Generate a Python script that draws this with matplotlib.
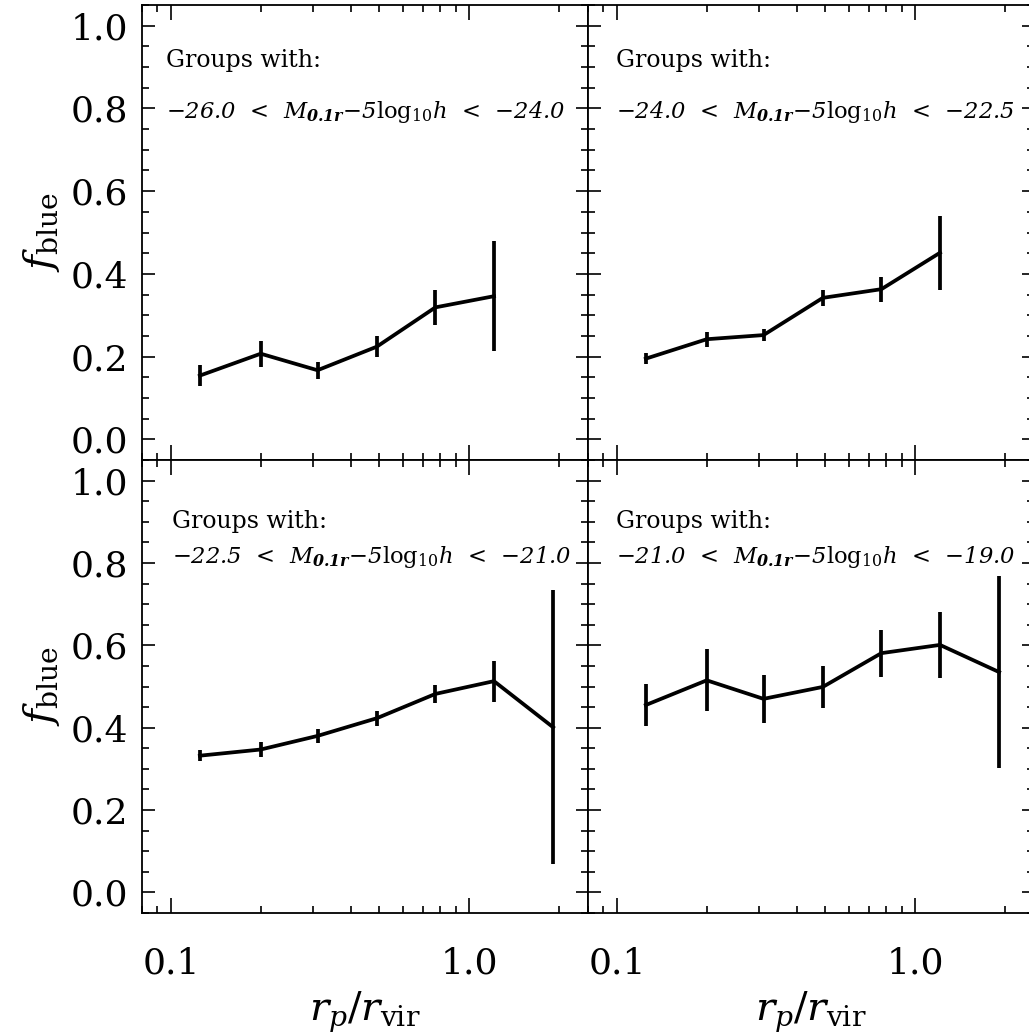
"""Blue fraction versus projected radius, four group luminosity bins."""

import matplotlib
matplotlib.use("Agg")
import matplotlib.pyplot as plt
from matplotlib.ticker import FixedLocator, NullFormatter

RADIUS = [0.125, 0.20, 0.31, 0.49, 0.77, 1.21, 1.91]

BINS = [("−26.0", "−24.0"), ("−24.0", "−22.5"), ("−22.5", "−21.0"), ("−21.0", "−19.0")]

FBLUE_1 = [0.154, 0.207, 0.167, 0.224, 0.319, 0.346]
ERR_1 = [0.025, 0.031, 0.021, 0.025, 0.042, 0.133]
FBLUE_2 = [0.195, 0.242, 0.252, 0.342, 0.363, 0.451]
ERR_2 = [0.014, 0.018, 0.015, 0.020, 0.030, 0.090]
FBLUE_3 = [0.332, 0.347, 0.380, 0.423, 0.482, 0.513, 0.401]
ERR_3 = [0.014, 0.018, 0.017, 0.018, 0.022, 0.050, 0.333]
FBLUE_4 = [0.455, 0.515, 0.470, 0.499, 0.581, 0.601, 0.535]
ERR_4 = [0.050, 0.075, 0.058, 0.051, 0.057, 0.081, 0.233]

YTICKS = [0.0, 0.2, 0.4, 0.6, 0.8, 1.0]
XTICKS = [0.1, 1.0]
XTICK_LABELS = ["0.1", "1.0"]

plt.rcParams.update({
    "font.family": ["DejaVu Serif"],
    "mathtext.fontset": "custom",
    "mathtext.rm": "DejaVu Serif",
    "mathtext.it": "DejaVu Serif:italic",
    "mathtext.bf": "DejaVu Serif:bold:italic",
    "axes.linewidth": 1.3,
})


def label_for(low, high):
    return (low + "  <  " + r"$M_{\mathbf{0.1r}}$" + "−5" + r"$\mathrm{log}_{10}h$"
            + "  <  " + high)


def panel(ax, y, err, bounds, left, bottom, text_pos):
    x = RADIUS[:len(y)]
    ax.errorbar(x, y, yerr=err, fmt="-", color="black", ecolor="black",
                linewidth=2.7, elinewidth=2.7, capsize=0)
    ax.set_xscale("log")
    ax.set_xlim(0.08, 2.5)
    ax.set_ylim(-0.05, 1.05)
    ax.xaxis.set_major_locator(FixedLocator(XTICKS))
    minors = [0.08, 0.09] + [0.1 * k for k in range(2, 10)] + [2.0]
    ax.xaxis.set_minor_locator(FixedLocator(minors))
    ax.xaxis.set_minor_formatter(NullFormatter())
    ax.yaxis.set_major_locator(FixedLocator(YTICKS))
    ax.yaxis.set_minor_locator(FixedLocator([i * 0.05 for i in range(-1, 22)]))
    ax.tick_params(which="both", direction="in", top=True, right=True, width=1.2)
    ax.tick_params(which="major", axis="x", length=11)
    ax.tick_params(which="minor", axis="x", length=5)
    ax.tick_params(which="major", axis="y", length=9)
    ax.tick_params(which="minor", axis="y", length=5)
    ax.tick_params(axis="y", labelsize=26, pad=10)
    ax.tick_params(axis="x", labelsize=26, pad=24)
    if bottom:
        ax.set_xticklabels(XTICK_LABELS)
        ax.set_xlabel(r"$r_p/r_{\rm vir}$", fontsize=29, labelpad=7)
    else:
        ax.set_xticklabels([])
    if left:
        ax.set_yticklabels([f"{v:.1f}" for v in YTICKS])
        ax.set_ylabel(r"$f_{\rm blue}$", fontsize=29, labelpad=6)
    else:
        ax.set_yticklabels([])
    tx, ty1, ty2 = text_pos
    ax.text(tx, ty1, "Groups with:", transform=ax.transAxes, fontsize=17,
            va="center", ha="left")
    ax.text(tx, ty2, label_for(*bounds), transform=ax.transAxes, fontsize=16.3,
            style="italic", va="center", ha="left")


fig = plt.figure(figsize=(10.29, 10.36), dpi=100)
W = 446 / 1029
ax1 = fig.add_axes([142 / 1029, 1 - 460 / 1036, W, 455 / 1036])
ax2 = fig.add_axes([588 / 1029, 1 - 460 / 1036, W, 455 / 1036])
ax3 = fig.add_axes([142 / 1029, 1 - 913 / 1036, W, 453 / 1036])
ax4 = fig.add_axes([588 / 1029, 1 - 913 / 1036, W, 453 / 1036])

panel(ax1, FBLUE_1, ERR_1, BINS[0], True, False, (0.054, 0.879, 0.765))
panel(ax2, FBLUE_2, ERR_2, BINS[1], False, False, (0.062, 0.879, 0.765))
panel(ax3, FBLUE_3, ERR_3, BINS[2], True, True, (0.067, 0.865, 0.786))
panel(ax4, FBLUE_4, ERR_4, BINS[3], False, True, (0.062, 0.865, 0.786))

fig.savefig("out.png", dpi=100, facecolor="white")
